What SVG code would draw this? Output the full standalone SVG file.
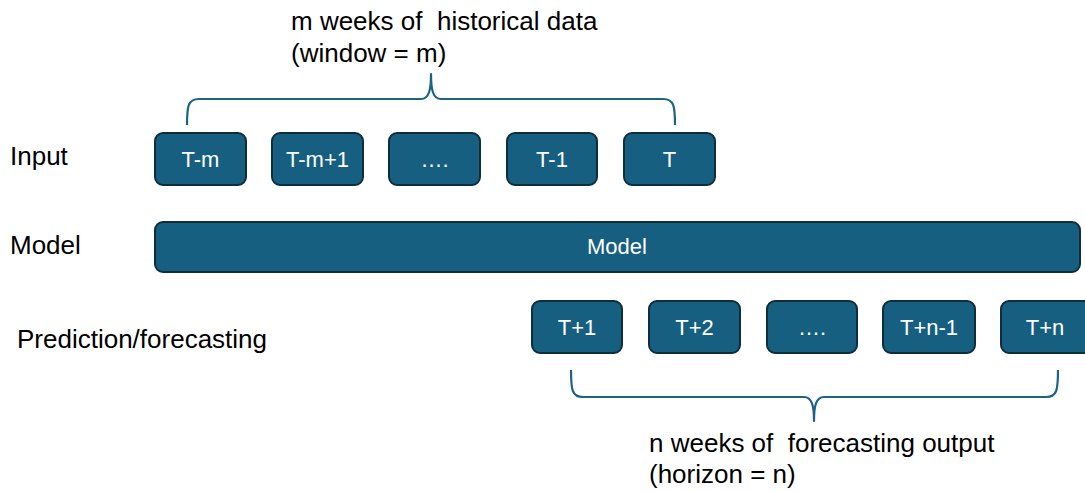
<svg xmlns="http://www.w3.org/2000/svg" width="1085" height="491" viewBox="0 0 1085 491">
  <style>
    .box { fill: #175f80; stroke: #0e2e3b; stroke-width: 2; }
    .boxtxt { font-family: "Liberation Sans", Arial, sans-serif; font-size: 22px; fill: #ffffff; text-anchor: middle; }
    .lbl { font-family: "Liberation Sans", Arial, sans-serif; font-size: 26px; fill: #000000; white-space: pre; }
    .brace { fill: none; stroke: #1d6385; stroke-width: 2.2; stroke-linejoin: round; }
  </style>
  <rect width="1085" height="491" fill="#ffffff"/>

  <!-- row labels -->
  <g id="row-labels">
    <text class="lbl" x="10" y="165">Input</text>
    <text class="lbl" x="10" y="254">Model</text>
    <text class="lbl" x="17" y="348">Prediction/forecasting</text>
  </g>

  <!-- input window -->
  <g id="in-tm"><rect class="box" x="155" y="133" width="91" height="52" rx="8"/><text class="boxtxt" x="200.5" y="167">T-m</text></g>
  <g id="in-tm1"><rect class="box" x="272" y="133" width="91" height="52" rx="8"/><text class="boxtxt" x="317.5" y="167">T-m+1</text></g>
  <g id="in-dots"><rect class="box" x="389" y="133" width="91" height="52" rx="8"/><text class="boxtxt" x="434.5" y="167">….</text></g>
  <g id="in-t1"><rect class="box" x="507" y="133" width="90" height="52" rx="8"/><text class="boxtxt" x="552" y="167">T-1</text></g>
  <g id="in-t"><rect class="box" x="624" y="133" width="91" height="52" rx="8"/><text class="boxtxt" x="669.5" y="167">T</text></g>

  <!-- model bar -->
  <g id="model"><rect class="box" x="155" y="222" width="925" height="50" rx="8"/><text class="boxtxt" x="617" y="254">Model</text></g>

  <!-- forecast horizon -->
  <g id="out-t1"><rect class="box" x="532" y="301" width="90" height="52" rx="8"/><text class="boxtxt" x="577" y="335">T+1</text></g>
  <g id="out-t2"><rect class="box" x="649" y="301" width="91" height="52" rx="8"/><text class="boxtxt" x="694.5" y="335">T+2</text></g>
  <g id="out-dots"><rect class="box" x="767" y="301" width="90" height="52" rx="8"/><text class="boxtxt" x="812" y="335">….</text></g>
  <g id="out-tn1"><rect class="box" x="883" y="301" width="92" height="52" rx="8"/><text class="boxtxt" x="929" y="335">T+n-1</text></g>
  <g id="out-tn"><rect class="box" x="1001" y="301" width="92" height="52" rx="8"/><text class="boxtxt" x="1045" y="335">T+n</text></g>

  <!-- braces -->
  <g id="connectors">
    <path class="brace" d="M187,125 C187,106 188,99 199,99 L421,99 C429,99 431,90 431,74 C431,90 433,99 441,99 L663,99 C674,99 675,106 675,125"/>
    <path class="brace" d="M571,370 C571,390 572,397 583,397 L804,397 C812,397 814,406 814,421 C814,406 816,397 824,397 L1046,397 C1057,397 1058,390 1058,370"/>
  </g>

  <!-- brace captions -->
  <g id="window-caption">
    <text class="lbl" x="291" y="30" xml:space="preserve">m weeks of  historical data</text>
    <text class="lbl" x="291" y="62">(window = m)</text>
  </g>
  <g id="horizon-caption">
    <text class="lbl" x="649" y="452" xml:space="preserve">n weeks of  forecasting output</text>
    <text class="lbl" x="649" y="483">(horizon = n)</text>
  </g>
</svg>
